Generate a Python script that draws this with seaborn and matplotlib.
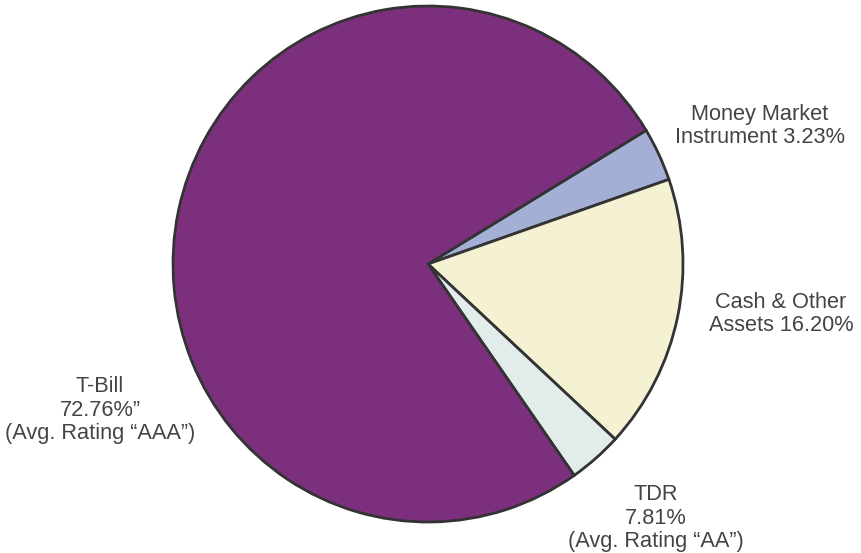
import matplotlib
matplotlib.use("Agg")
import matplotlib.pyplot as plt
import seaborn as sns

# Slice shares as drawn in the picture (clockwise from the top right)
segments = ["Money Market", "Cash & Other", "TDR", "T-Bill"]
shares = [3.35, 17.2, 3.4, 76.05]
colors = ["#a4afd6", "#f5f2d4", "#e2edeb", "#7b2f7d"]

# Label texts as printed on the chart
label_texts = [
    "Money Market\nInstrument 3.23%",
    "Cash & Other\nAssets 16.20%",
    "TDR\n7.81%\n(Avg. Rating \u201cAA\u201d)",
    "T-Bill\n72.76%\u201d\n(Avg. Rating \u201cAAA\u201d)",
]
label_pos = [(760, 427), (781, 239), (656, 35), (100, 143)]


def plot_allocation():
    fig = plt.figure(figsize=(8.61, 5.53), dpi=100)
    ax = fig.add_axes([0, 0, 1, 1])

    # pie is a touch taller than wide in the original
    yscale = 255 / 258

    ax.pie(shares, colors=colors, startangle=31.2, counterclock=False,
           center=(428, 289 * yscale), radius=255,
           wedgeprops={"edgecolor": "#333333", "linewidth": 2})

    for text, (x, y) in zip(label_texts, label_pos):
        ax.text(x, y * yscale, text, ha="center", va="center", fontsize=15.7,
                color="#444444", linespacing=1.15)

    ax.set_xlim(0, 861)
    ax.set_ylim(0, 553 * yscale)
    ax.set_aspect("auto")
    ax.axis("off")

    plt.savefig("out.png", dpi=100)


if __name__ == "__main__":
    sns.set_theme(style="white")
    plt.rcParams["font.family"] = ["Liberation Sans", "DejaVu Sans"]
    plot_allocation()
